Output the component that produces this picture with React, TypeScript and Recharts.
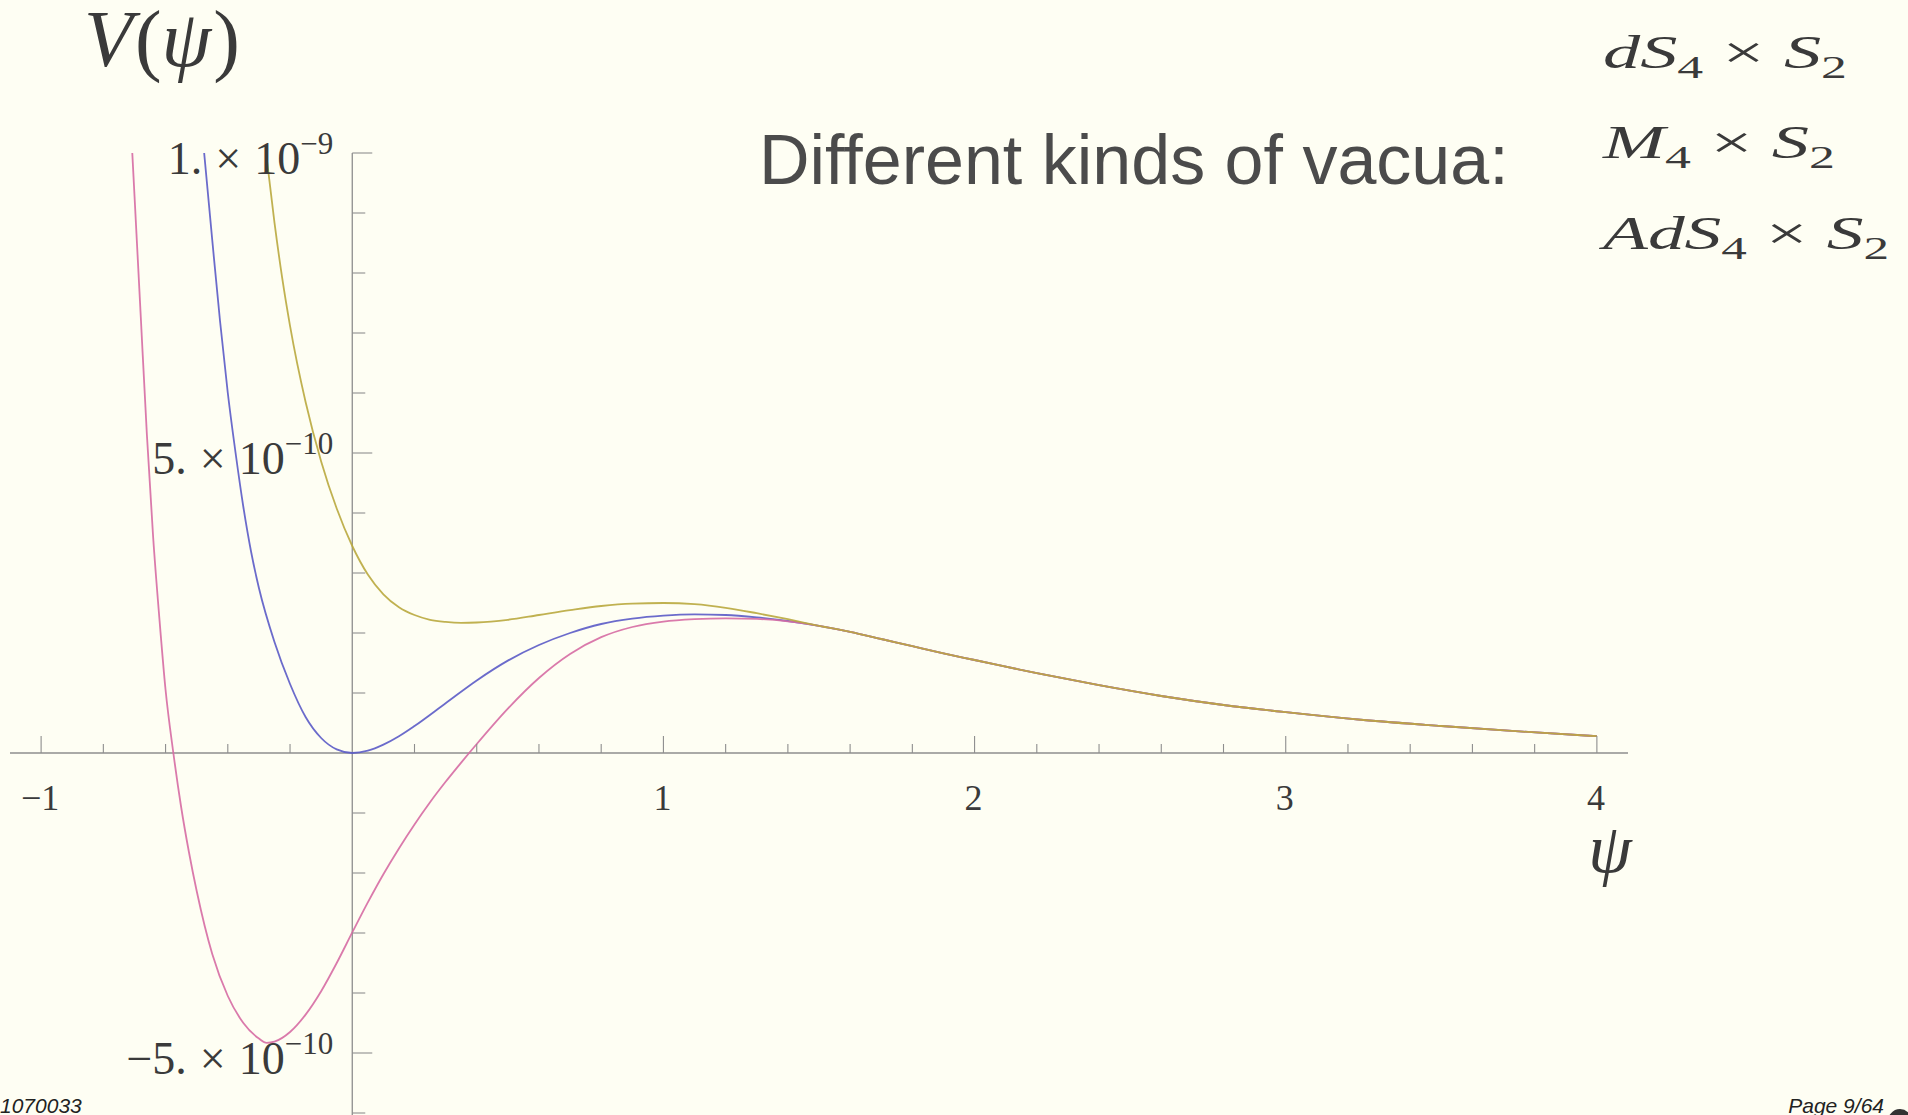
import React from "react";
import { Line, LineChart, ReferenceDot, ReferenceLine, XAxis, YAxis } from "recharts";

// V(psi) is kept in units of 1e-10; tick labels below carry the real exponent.
const adsPsi = [
  -0.707, -0.7, -0.68, -0.66, -0.64, -0.62, -0.6, -0.575, -0.55, -0.525, -0.5, -0.45, -0.4, -0.35,
  -0.3, -0.275, -0.25, -0.2, -0.15, -0.1, -0.05, 0, 0.05, 0.1, 0.15, 0.2, 0.25, 0.3, 0.35, 0.4, 0.5,
  0.6, 0.7, 0.8, 0.9, 1.0, 1.1, 1.2, 1.3, 1.4,
];
const adsV = [
  10, 9.3, 7.3, 5.3, 3.6, 2.25, 1.05, 0, -0.9, -1.65, -2.3, -3.35, -4.05, -4.5, -4.76, -4.83, -4.81,
  -4.65, -4.36, -3.97, -3.5, -2.99, -2.49, -2.02, -1.59, -1.19, -0.82, -0.48, -0.16, 0.15, 0.74, 1.25,
  1.65, 1.93, 2.1, 2.19, 2.23, 2.245, 2.235, 2.195,
];

const minkPsi = [
  -0.476, -0.45, -0.425, -0.4, -0.375, -0.35, -0.325, -0.3, -0.25, -0.2, -0.15, -0.1, -0.05, 0, 0.05,
  0.1, 0.15, 0.2, 0.3, 0.4, 0.5, 0.6, 0.7, 0.8, 0.9, 1.0, 1.1, 1.2, 1.3, 1.4,
];
const minkV = [
  10, 8.55, 7.2, 6.0, 5.0, 4.1, 3.35, 2.75, 1.85, 1.15, 0.6, 0.25, 0.06, 0, 0.04, 0.14, 0.28, 0.45,
  0.83, 1.21, 1.54, 1.8, 2.0, 2.15, 2.24, 2.29, 2.31, 2.3, 2.26, 2.2,
];

const dsPsi = [
  -0.277, -0.25, -0.225, -0.2, -0.15, -0.1, -0.05, 0, 0.05, 0.1, 0.15, 0.2, 0.25, 0.3, 0.35, 0.4, 0.5,
  0.6, 0.7, 0.8, 0.9, 1.0, 1.1, 1.2, 1.3, 1.4,
];
const dsV = [
  10, 8.84, 7.91, 7.12, 5.85, 4.86, 4.075, 3.45, 2.975, 2.645, 2.43, 2.3, 2.22, 2.185, 2.17, 2.175,
  2.22, 2.3, 2.38, 2.45, 2.49, 2.5, 2.48, 2.42, 2.33, 2.23,
];

// all three potentials coincide past psi ~ 1.5
const tailPsi = [1.5, 1.6, 1.7, 1.8, 1.9, 2.0, 2.2, 2.4, 2.6, 2.8, 3.0, 3.25, 3.5, 3.75, 4.0];
const tailV = [2.12, 2.02, 1.9, 1.78, 1.66, 1.55, 1.33, 1.13, 0.95, 0.8, 0.68, 0.55, 0.45, 0.36, 0.28];

const xMajorTicks = [-1, 1, 2, 3, 4];
const xTickLabels = ["\u22121", "1", "2", "3", "4"];
const yMajorTicks = [-5, 5, 10];
const yTickMantissa = ["\u22125.", "5.", "1."];
const yTickExponent = ["\u221210", "\u221210", "\u22129"];

const vacua = [
  { base: "dS", sub: "4", width: 244 },
  { base: "M", sub: "4", width: 232 },
  { base: "AdS", sub: "4", width: 286 },
];
const vacuaBaselines = [68, 158, 249];

const BG = "#fefef3";
const AXIS = "#8e8e8e";
const INK = "#3a3a3a";
const SERIF = '"Liberation Serif", "Times New Roman", serif';
const SANS = '"Liberation Sans", Arial, sans-serif';

const toPoints = (psi: number[], v: number[]) =>
  psi.concat(tailPsi).map((p, i) => ({ psi: p, v: v.concat(tailV)[i] }));

const series = [
  { key: "M4", data: toPoints(minkPsi, minkV), color: "#5b5bc6" },
  { key: "AdS4", data: toPoints(adsPsi, adsV), color: "#d66ba3" },
  { key: "dS4", data: toPoints(dsPsi, dsV), color: "#b9a83e" },
];

// minor ticks every 0.2 on x and every 1e-10 on y
const xMinor: number[] = [];
for (let i = -5; i <= 20; i++) {
  if (i % 5 !== 0) xMinor.push(Math.round(i * 2) / 10);
}
const yMinor: number[] = [];
for (let t = -6; t <= 9; t++) {
  if (t !== 0 && t !== -5 && t !== 5) yMinor.push(t);
}

const xTick = (len: number, label?: string) => (p: any) => (
  <g>
    <line x1={p.cx} y1={p.cy} x2={p.cx} y2={p.cy - len} stroke={AXIS} strokeWidth={1.1} />
    {label ? (
      <text x={p.cx - 1} y={p.cy + 57} textAnchor="middle" fontFamily={SERIF} fontSize={36} fill={INK}>
        {label}
      </text>
    ) : null}
  </g>
);

const yTick = (len: number, mant?: string, exp?: string) => (p: any) => (
  <g>
    <line x1={p.cx} y1={p.cy} x2={p.cx + len} y2={p.cy} stroke={AXIS} strokeWidth={1.1} />
    {mant ? (
      <text x={p.cx - 19} y={p.cy + 21} textAnchor="end" fontFamily={SERIF} fontSize={46} fill={INK}>
        <tspan>{mant}</tspan>
        <tspan dx={13}>×</tspan>
        <tspan dx={13}>10</tspan>
        <tspan dy={-20} fontSize={31}>
          {exp}
        </tspan>
      </text>
    ) : null}
  </g>
);

export default function App() {
  return (
    <div
      style={{
        position: "absolute",
        left: 0,
        top: 0,
        width: 1908,
        height: 1115,
        overflow: "hidden",
        background: BG,
      }}
    >
      <div style={{ position: "absolute", left: 0, top: 0 }}>
        <LineChart width={1908} height={1116} margin={{ top: 153, right: 280, bottom: 0, left: 10 }}>
          <XAxis type="number" dataKey="psi" domain={[-1.1, 4.1]} allowDataOverflow hide />
          <YAxis type="number" dataKey="v" domain={[-6.05, 10]} allowDataOverflow hide />
          <ReferenceLine y={0} stroke={AXIS} strokeWidth={1.3} />
          <ReferenceLine x={0} stroke={AXIS} strokeWidth={1.3} />
          {xMinor.map((t) => (
            <ReferenceDot key={`xm${t}`} x={t} y={0} shape={xTick(9)} />
          ))}
          {xMajorTicks.map((t, i) => (
            <ReferenceDot key={`xM${t}`} x={t} y={0} shape={xTick(17, xTickLabels[i])} />
          ))}
          {yMinor.map((t) => (
            <ReferenceDot key={`ym${t}`} x={0} y={t} shape={yTick(13)} />
          ))}
          {yMajorTicks.map((t, i) => (
            <ReferenceDot
              key={`yM${t}`}
              x={0}
              y={t}
              shape={yTick(20, yTickMantissa[i], yTickExponent[i])}
            />
          ))}
          {series.map((s) => (
            <Line
              key={s.key}
              data={s.data}
              dataKey="v"
              type="monotone"
              stroke={s.color}
              strokeWidth={1.8}
              strokeOpacity={0.9}
              dot={false}
              activeDot={false}
              isAnimationActive={false}
            />
          ))}
        </LineChart>
      </div>

      <svg
        width={1908}
        height={1115}
        style={{ position: "absolute", left: 0, top: 0, pointerEvents: "none" }}
      >
        <text x={84} y={66} fontFamily={SERIF} fontSize={80} fill={INK}>
          <tspan fontStyle="italic">V</tspan>
          <tspan dx={2}>(</tspan>
          <tspan fontStyle="italic">ψ</tspan>
          <tspan dx={2}>)</tspan>
        </text>
        <text x={1610} y={872} textAnchor="middle" fontFamily={SERIF} fontStyle="italic" fontSize={70} fill={INK}>
          ψ
        </text>
        <text x={759} y={184} fontFamily={SANS} fontSize={70} fill="#4b4b4b">
          Different kinds of vacua:
        </text>
        {vacua.map((v, i) => (
          <text
            key={v.base}
            x={1603}
            y={vacuaBaselines[i]}
            fontFamily={SERIF}
            fontSize={46}
            fill={INK}
            textLength={v.width}
            lengthAdjust="spacingAndGlyphs"
          >
            <tspan fontStyle="italic">{v.base}</tspan>
            <tspan dy={10} fontSize={32}>
              {v.sub}
            </tspan>
            <tspan dy={-10} dx={12}>
              ×
            </tspan>
            <tspan dx={12} fontStyle="italic">
              S
            </tspan>
            <tspan dy={10} fontSize={32}>
              2
            </tspan>
          </text>
        ))}
        <text x={0} y={1113} fontFamily={SANS} fontStyle="italic" fontSize={21} fill="#222">
          1070033
        </text>
        <text x={1884} y={1113} textAnchor="end" fontFamily={SANS} fontStyle="italic" fontSize={21} fill="#222">
          Page 9/64
        </text>
        <ellipse cx={1900} cy={1124} rx={13} ry={15} fill="#333" />
      </svg>
    </div>
  );
}
